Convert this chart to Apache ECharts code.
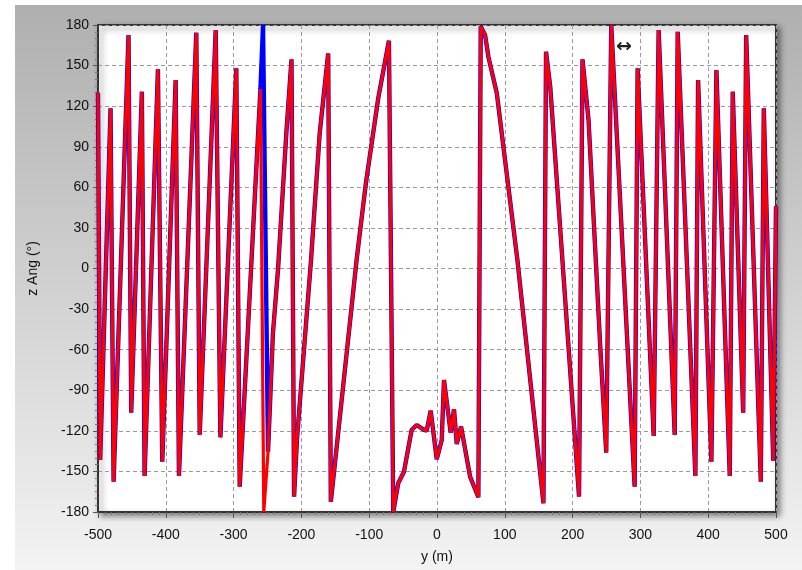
<!DOCTYPE html>
<html>
<head>
<meta charset="utf-8">
<script src="https://cdn.jsdelivr.net/npm/echarts@6/dist/echarts.min.js"></script>
<style>
html,body{margin:0;padding:0;background:#fff;}
#chart{width:802px;height:570px;}
</style>
</head>
<body>
<div id="chart"></div>
<script>
// Positions along y (m) and z angle (deg) for the red trace
var redPos = [-500,-496.8,-481.5,-477,-455,-451,-435.3,-431.3,-411.6,-405.2,-385.5,-380.6,-355,-350,-326.4,-319.5,-296,-291,-260.4,-255.5,-249.2,-242,-234.4,-222,-214.6,-210.8,-206.5,-186,-173,-160.5,-156.6,-145.8,-118.6,-104.9,-86.7,-70.9,-64.5,-57.2,-48.7,-37.4,-30,-20.2,-15.2,-9.3,-0.4,7,10.3,20.2,25.1,29.1,35.5,48.8,61,64.5,70.9,75.8,88.2,118.6,157,160.8,167,209.5,214.6,223.5,240.8,249.6,257,291.5,295.9,319.6,326.9,350.6,355,381.1,385.1,404.7,412.1,431.8,436.2,451.6,456,477.6,482,495.9,500];
var redAng = [130,-141.6,118.4,-157.6,172.6,-106.6,130.7,-153.4,147.2,-142.8,139.3,-153.4,174.3,-123,176.3,-124.8,148,-161.3,132.7,-180,-135.4,-48,0,102,154.6,-168.7,-126,5,100,159,-172.4,-121.8,6.3,63,125.8,168.4,-180,-158.8,-150.2,-119.4,-115.7,-118.9,-119.9,-105.1,-141,-126.8,-82.4,-121.4,-104.1,-129.7,-116.9,-153.9,-169.1,178.8,172.6,156.6,129.5,6.3,-173.6,160.3,134.4,-168.7,154.6,109.8,-57.8,-136.2,180,-161.3,148,-123.8,176.3,-123.1,175,-153.4,139.3,-142.8,146.7,-153.4,130.7,-106.6,172.6,-157.6,118.4,-142.1,46];
// Blue trace: identical except around y = -256 where it sits at +180
var bluePos = redPos.slice();
var blueAng = redAng.slice();
bluePos[19] = -256.6;
blueAng[19] = 180;

var xTicks = {min:-500, max:500, step:100};
var yTicks = {min:-180, max:180, step:30};

function pairs(p, a){ return p.map(function(v,i){ return [v, a[i]]; }); }

var chart = echarts.init(document.getElementById('chart'), null, {renderer:'canvas'});
var font = 'Liberation Sans';
chart.setOption({
  animation:false,
  backgroundColor:'#ffffff',
  graphic:[
    {type:'rect', z:-10, shape:{x:15,y:5,width:787,height:565},
     style:{fill:{type:'linear',x:0,y:0,x2:0,y2:1,colorStops:[{offset:0,color:'#afafaf'},{offset:1,color:'#f3f3f3'}]}}},
    {type:'text', z:100, left:616, top:38, style:{text:'\u2194', fill:'#222', font:'bold 19px "DejaVu Sans"'}}
  ],
  grid:{left:98, right:26, top:25, bottom:58, show:true, backgroundColor:'#ffffff',
        borderColor:'#333', borderWidth:2,
        shadowColor:'rgba(0,0,0,0.45)', shadowBlur:6, shadowOffsetX:3, shadowOffsetY:3},
  xAxis:{type:'value', min:xTicks.min, max:xTicks.max, interval:xTicks.step,
    name:'y (m)', nameLocation:'middle', nameGap:38,
    nameTextStyle:{color:'#111', fontSize:14, fontFamily:font},
    axisLine:{show:true, onZero:false, lineStyle:{color:'#333', width:2}},
    axisTick:{show:true, length:6, lineStyle:{color:'#555'}},
    minorTick:{show:true, splitNumber:10, length:3, lineStyle:{color:'#777'}},
    axisLabel:{color:'#111', fontSize:14, fontFamily:font, margin:16},
    splitLine:{show:true, lineStyle:{color:'#9a9a9a', type:[4,3], width:1}}
  },
  yAxis:{type:'value', min:yTicks.min, max:yTicks.max, interval:yTicks.step,
    name:'z Ang (\u00b0)', nameLocation:'middle', nameGap:58, nameRotate:90,
    nameTextStyle:{color:'#111', fontSize:14, fontFamily:font},
    axisLine:{show:true, onZero:false, lineStyle:{color:'#333', width:2}},
    axisTick:{show:true, length:5, lineStyle:{color:'#555'}},
    minorTick:{show:true, splitNumber:6, length:3, lineStyle:{color:'#777'}},
    axisLabel:{color:'#111', fontSize:14, fontFamily:font, margin:9},
    splitLine:{show:true, lineStyle:{color:'#9a9a9a', type:[4,3], width:1}}
  },
  series:[
    {type:'line', data:pairs(bluePos, blueAng), showSymbol:false, symbol:'none',
     lineStyle:{color:'#0000ff', width:4.4}, z:2},
    {type:'line', data:pairs(redPos, redAng), showSymbol:false, symbol:'none',
     lineStyle:{color:'#ff0000', width:3.2}, z:3}
  ]
});
</script>
</body>
</html>
